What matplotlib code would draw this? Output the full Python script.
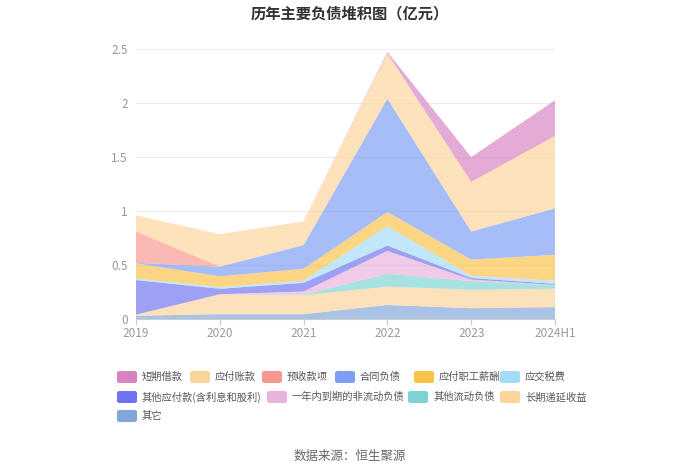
import matplotlib.pyplot as plt
from matplotlib.patches import FancyBboxPatch

plt.rcParams['font.family'] = ['Noto Sans CJK SC', 'DejaVu Sans']

years = ['2019', '2020', '2021', '2022', '2023', '2024H1']

# 从下到上的堆积顺序
qita = [0.03, 0.045, 0.045, 0.13, 0.10, 0.11]
changqi_diyan = [0.01, 0.18, 0.175, 0.17, 0.17, 0.17]
qita_liudong = [0, 0, 0.005, 0.12, 0.08, 0.03]
yinian_daoqi = [0, 0.005, 0.03, 0.21, 0.015, 0.005]
qita_yingfu = [0.32, 0.05, 0.08, 0.05, 0.015, 0.01]
yingjiao_shuifei = [0.015, 0.015, 0.02, 0.18, 0.02, 0.03]
zhigong_xinchou = [0.14, 0.10, 0.11, 0.13, 0.15, 0.24]
hetong_fuzhai = [0.005, 0.09, 0.22, 1.05, 0.26, 0.43]
yushou = [0.29, 0, 0, 0, 0, 0]
yingfu_zhangkuan = [0.15, 0.30, 0.22, 0.42, 0.46, 0.67]
duanqi_jiekuan = [0, 0, 0, 0.012, 0.23, 0.33]

names = ['其它', '长期递延收益', '其他流动负债', '一年内到期的非流动负债',
         '其他应付款(含利息和股利)', '应交税费', '应付职工薪酬', '合同负债',
         '预收款项', '应付账款', '短期借款']
series = [qita, changqi_diyan, qita_liudong, yinian_daoqi, qita_yingfu,
          yingjiao_shuifei, zhigong_xinchou, hetong_fuzhai, yushou,
          yingfu_zhangkuan, duanqi_jiekuan]
colors = ['#82a6da', '#fdd49a', '#7dd3d3', '#e9b2dd', '#7073ef',
          '#a3dcf9', '#fcc34a', '#7d9ef5', '#f8988f', '#fdd59b', '#d783c2']

fig = plt.figure(figsize=(7, 4.73), dpi=100)
ax = fig.add_axes([136 / 700, 1 - 319 / 473, (555 - 136) / 700, 270 / 473])

x = list(range(len(years)))
ax.stackplot(x, *series, colors=colors, alpha=0.68, linewidth=0)

ax.set_xlim(0, len(years) - 1)
ax.set_ylim(0, 2.5)
ax.set_xticks(x)
ax.set_xticklabels(years)
ax.set_yticks([0, 0.5, 1, 1.5, 2, 2.5])
ax.set_yticklabels(['0', '0.5', '1', '1.5', '2', '2.5'])
ax.tick_params(axis='both', colors='#999999', labelsize=8.5, length=4)
ax.tick_params(axis='y', length=0, pad=6)
ax.tick_params(axis='x', color='#cccccc', pad=2)
ax.grid(axis='y', color='#ebebeb', lw=0.8)
ax.set_axisbelow(True)
for sp in ['top', 'right', 'left']:
    ax.spines[sp].set_visible(False)
ax.spines['bottom'].set_color('#cccccc')

fig.text(0.5, 1 - 13 / 473, '历年主要负债堆积图（亿元）', ha='center', va='center',
         fontsize=11, fontweight='bold', color='#333333')

# 图例
legend_order = ['短期借款', '应付账款', '预收款项', '合同负债', '应付职工薪酬', '应交税费',
                '其他应付款(含利息和股利)', '一年内到期的非流动负债', '其他流动负债', '长期递延收益',
                '其它']
legend_pos = [(117, 377), (190, 377), (262, 377), (335, 377), (414, 377), (500, 377),
              (117, 397), (267, 397), (408, 397), (500, 397),
              (117, 416)]
cmap = dict(zip(names, colors))
for name, (px, py) in zip(legend_order, legend_pos):
    fx, fy = px / 700, 1 - py / 473
    w, h = 20 / 700, 12 / 473
    fig.patches.append(FancyBboxPatch((fx, fy - h / 2), w, h,
                                      boxstyle='round,pad=0,rounding_size=0.004',
                                      transform=fig.transFigure,
                                      facecolor=cmap[name], edgecolor='none'))
    fig.text(fx + 25 / 700, fy, name, ha='left', va='center', fontsize=7.4,
             color='#555555')

fig.text(0.5, 1 - 456 / 473, '数据来源：恒生聚源', ha='center', va='center',
         fontsize=9, color='#666666')

fig.savefig('out.png', dpi=100)
